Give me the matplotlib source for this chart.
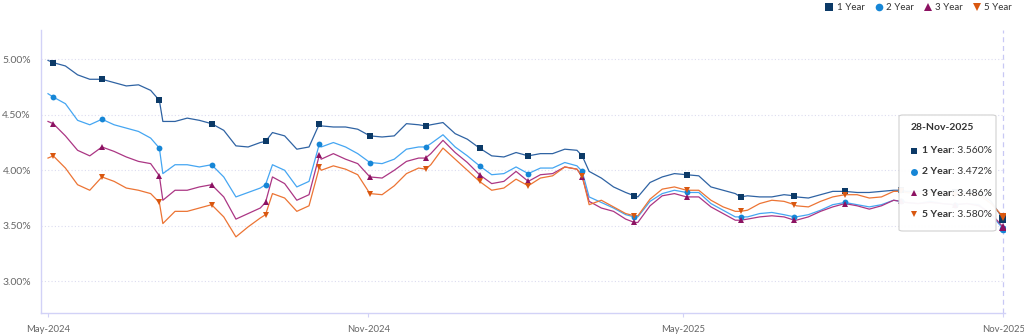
import numpy as np
import pandas as pd
import matplotlib
matplotlib.use('Agg')
import matplotlib.pyplot as plt
import matplotlib.dates as mdates
from matplotlib.lines import Line2D
from matplotlib.patches import FancyBboxPatch

plt.rcParams['font.family'] = ['Lato', 'DejaVu Sans']

# weekly (friday) readings plus each month's last business day
start = pd.Timestamp('2024-05-28')
end = pd.Timestamp('2025-11-28')
fridays = pd.date_range('2024-05-31', end, freq='W-FRI')
month_ends = pd.date_range('2024-05-01', end, freq=pd.offsets.BMonthEnd())
dates = pd.DatetimeIndex([start]).union(fridays).union(month_ends)

one_year = [
    4.99, 4.97,                        # May-24
    4.94, 4.86, 4.82, 4.82,            # Jun
    4.79, 4.76, 4.77, 4.72, 4.63,      # Jul
    4.44, 4.44, 4.47, 4.45, 4.42,      # Aug
    4.36, 4.22, 4.21, 4.25, 4.26,      # Sep
    4.34, 4.31, 4.19, 4.21, 4.42,      # Oct
    4.40, 4.39, 4.39, 4.37, 4.31,      # Nov
    4.30, 4.31, 4.42, 4.41, 4.40,      # Dec
    4.41, 4.43, 4.33, 4.28, 4.20,      # Jan-25
    4.13, 4.12, 4.16, 4.13,            # Feb
    4.15, 4.15, 4.19, 4.18, 4.13,      # Mar
    3.99, 3.93, 3.85, 3.80, 3.77,      # Apr
    3.76, 3.89, 3.94, 3.97, 3.96,      # May
    3.95, 3.85, 3.82, 3.79, 3.76,      # Jun
    3.77, 3.76, 3.76, 3.78, 3.77,      # Jul
    3.76, 3.75, 3.78, 3.81, 3.81,      # Aug
    3.80, 3.80, 3.81, 3.82, 3.82,      # Sep
    3.81, 3.81, 3.82, 3.81, 3.80,      # Oct
    3.81, 3.80, 3.72, 3.560,           # Nov
]
two_year = [
    4.69, 4.66,
    4.60, 4.45, 4.41, 4.46,
    4.41, 4.38, 4.35, 4.29, 4.20,
    3.97, 4.05, 4.05, 4.03, 4.05,
    3.94, 3.76, 3.80, 3.84, 3.87,
    4.05, 4.00, 3.85, 3.90, 4.24,
    4.21, 4.25, 4.21, 4.15, 4.07,
    4.06, 4.10, 4.19, 4.21, 4.21,
    4.24, 4.32, 4.21, 4.13, 4.04,
    3.96, 3.97, 4.03, 3.97,
    4.02, 4.02, 4.07, 4.04, 3.99,
    3.76, 3.71, 3.66, 3.60, 3.58,
    3.58, 3.72, 3.79, 3.82, 3.80,
    3.80, 3.70, 3.64, 3.58, 3.58,
    3.58, 3.61, 3.62, 3.60, 3.58,
    3.58, 3.60, 3.64, 3.69, 3.71,
    3.69, 3.67, 3.69, 3.73, 3.72,
    3.71, 3.70, 3.72, 3.70, 3.69,
    3.70, 3.69, 3.60, 3.472,
]
three_year = [
    4.44, 4.42,
    4.31, 4.18, 4.13, 4.21,
    4.17, 4.12, 4.08, 4.06, 3.95,
    3.73, 3.82, 3.82, 3.85, 3.87,
    3.76, 3.56, 3.61, 3.66, 3.71,
    3.94, 3.88, 3.73, 3.78, 4.14,
    4.10, 4.15, 4.10, 4.06, 3.94,
    3.93, 4.00, 4.08, 4.11, 4.11,
    4.15, 4.27, 4.16, 4.07, 3.96,
    3.88, 3.90, 3.99, 3.90,
    3.96, 3.97, 4.03, 4.01, 3.94,
    3.72, 3.66, 3.63, 3.56, 3.53,
    3.53, 3.68, 3.77, 3.79, 3.76,
    3.76, 3.67, 3.61, 3.55, 3.55,
    3.56, 3.58, 3.59, 3.58, 3.55,
    3.55, 3.58, 3.63, 3.67, 3.70,
    3.68, 3.65, 3.68, 3.73, 3.72,
    3.71, 3.70, 3.71, 3.70, 3.69,
    3.70, 3.68, 3.61, 3.486,
]
five_year = [
    4.11, 4.13,
    4.02, 3.87, 3.82, 3.94,
    3.90, 3.84, 3.82, 3.79, 3.71,
    3.52, 3.63, 3.63, 3.66, 3.69,
    3.58, 3.40, 3.49, 3.57, 3.60,
    3.79, 3.75, 3.63, 3.68, 4.03,
    4.00, 4.04, 4.01, 3.96, 3.79,
    3.78, 3.86, 3.97, 4.02, 4.01,
    4.05, 4.20, 4.10, 4.00, 3.90,
    3.82, 3.84, 3.92, 3.86,
    3.93, 3.95, 4.03, 4.01, 3.95,
    3.69, 3.73, 3.67, 3.61, 3.59,
    3.59, 3.74, 3.83, 3.85, 3.82,
    3.82, 3.73, 3.67, 3.63, 3.63,
    3.64, 3.70, 3.73, 3.72, 3.69,
    3.68, 3.67, 3.72, 3.76, 3.78,
    3.78, 3.75, 3.76, 3.81, 3.81,
    3.80, 3.79, 3.80, 3.79, 3.78,
    3.79, 3.78, 3.70, 3.580,
]

names = ['1 Year', '2 Year', '3 Year', '5 Year']
values = [one_year, two_year, three_year, five_year]
line_cols = ['#2f63a3', '#45a6f2', '#ab3684', '#ec7434']
mark_cols = ['#0c3a67', '#1686d6', '#8c1262', '#d9570f']
markers = ['s', 'o', '^', 'v']
yticks = [3.0, 3.5, 4.0, 4.5, 5.0]
xticks = ['2024-05-28', '2024-11-28', '2025-05-28', '2025-11-28']

W, H = 1024, 336
fig = plt.figure(figsize=(W / 100, H / 100), dpi=100)
ax = fig.add_axes([40.7 / W, 1 - 313 / H, (1005 - 40.7) / W, (313 - 30) / H])

marks = [i for i, d in enumerate(dates) if d in month_ends]
for name, vals, lc, mc, m in zip(names, values, line_cols, mark_cols, markers):
    vals = np.array(vals)
    ax.plot(dates, vals, color=lc, lw=0.9, zorder=3)
    ax.plot(dates[marks[:-1]], vals[marks[:-1]], ls='none', marker=m,
            color=mc, ms=4.2, mew=0, zorder=4)
    ax.plot(dates[-1:], vals[-1:], ls='none', marker=m, color=mc, ms=5.5,
            mew=0, zorder=5)

ax.set_xlim(start - pd.Timedelta(days=4.2), end + pd.Timedelta(days=1))
ax.set_ylim(2.714, 5.264)
ax.set_yticks(yticks)
ax.set_yticklabels(['%.2f%%' % v for v in yticks])
ax.set_xticks(pd.to_datetime(xticks))
ax.xaxis.set_major_formatter(mdates.DateFormatter('%b-%Y'))
ax.grid(axis='y', color='#dcdcf0', ls=(0, (1, 2)), lw=0.8)
ax.set_axisbelow(True)
for s in ['top', 'right']:
    ax.spines[s].set_visible(False)
for s in ['left', 'bottom']:
    ax.spines[s].set_color('#d2d2f7')
    ax.spines[s].set_linewidth(1)
ax.tick_params(axis='y', length=0, pad=7, labelsize=7.5, labelcolor='#666666')
ax.tick_params(axis='x', length=3, color='#d2d2f7', pad=6, labelsize=6.8,
               labelcolor='#666666')

# crosshair at the hovered date
ax.axvline(end, color='#c8c8f5', ls=(0, (4, 3)), lw=0.9, zorder=2)

handles = [Line2D([], [], ls='none', marker=m, color=c, ms=5.5, mew=0)
           for m, c in zip(markers, mark_cols)]
fig.legend(handles, names, loc='upper right', bbox_to_anchor=(1012 / W, 1 - 3 / H),
           ncol=4, frameon=False, fontsize=7, handletextpad=0.3, columnspacing=1.0,
           handlelength=0.9, borderpad=0, borderaxespad=0, labelcolor='#333333')

# tooltip
fx = lambda px: px / W
fy = lambda py: 1 - py / H
box = FancyBboxPatch((fx(899), fy(231)), fx(996) - fx(899), fy(115) - fy(231),
                     boxstyle='round,pad=0,rounding_size=0.004',
                     transform=fig.transFigure, facecolor='white', alpha=0.96,
                     edgecolor='#cfcfcf', lw=0.8, zorder=10)
fig.patches.append(box)
fig.text(fx(911), fy(128), '28-Nov-2025', fontsize=7.5, fontweight='bold',
         color='#333333', va='center', zorder=11)
renderer = fig.canvas.get_renderer()
for k, (name, vals, mc, m) in enumerate(zip(names, values, mark_cols, markers)):
    ry = 150.5 + 21.3 * k
    fig.add_artist(Line2D([fx(914)], [fy(ry)], ls='none', marker=m, color=mc, ms=5,
                          mew=0, transform=fig.transFigure, zorder=11))
    t = fig.text(fx(922), fy(ry), name, fontsize=7.5, fontweight='bold',
                 color='#333333', va='center', zorder=11)
    bb = t.get_window_extent(renderer)
    fig.text(bb.x1 / W, fy(ry), ': %.3f%%' % vals[-1], fontsize=7.5,
             color='#333333', va='center', zorder=11)

fig.savefig('out.png', dpi=100)
